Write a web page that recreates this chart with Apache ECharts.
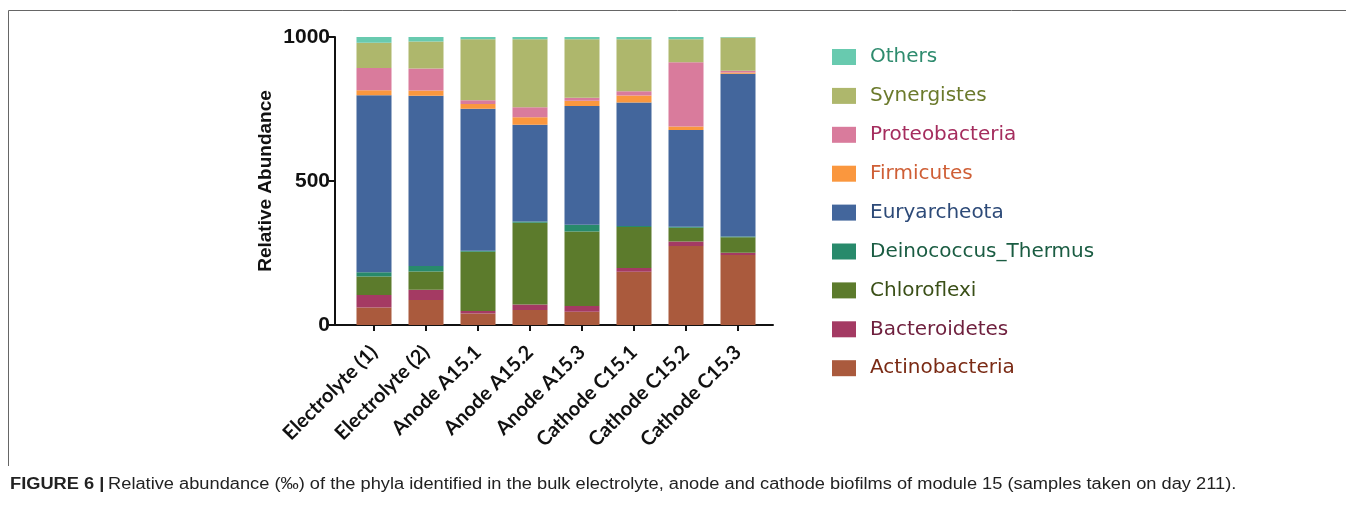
<!DOCTYPE html>
<html>
<head>
<meta charset="utf-8">
<script src="https://cdn.jsdelivr.net/npm/echarts@6/dist/echarts.min.js"></script>
<style>
  html, body { margin: 0; padding: 0; background: #ffffff; }
  #chart { width: 1346px; height: 509px; }
</style>
</head>
<body>
<div id="chart"></div>
<script>
// Samples (x-axis categories)
const samples = ['Electrolyte (1)', 'Electrolyte (2)', 'Anode A15.1', 'Anode A15.2',
                 'Anode A15.3', 'Cathode C15.1', 'Cathode C15.2', 'Cathode C15.3'];

// Relative abundance (‰) per phylum, one value per sample, stacked bottom to top
const actinobacteria    = [61, 87, 40, 52, 46, 185, 274, 243];
const bacteroidetes     = [43, 35, 9, 19, 20, 13, 16, 8];
const chloroflexi       = [64, 64, 205, 284, 259, 142, 48, 54];
const deinococcus       = [15, 19, 4, 4, 23, 4, 3, 2];
const euryarcheota      = [615, 591, 493, 336, 412, 429, 336, 565];
const firmicutes        = [17, 18, 16, 26, 19, 24, 12, 5];
const proteobacteria    = [77, 77, 13, 35, 10, 15, 223, 6];
const synergistes       = [88, 93, 212, 236, 203, 180, 80, 115];
const others            = [20, 16, 8, 8, 8, 8, 8, 2];

const yTicks = [0, 500, 1000];
const caption = 'Relative abundance (‰) of the phyla identified in the bulk electrolyte, anode and cathode biofilms of module 15 (samples taken on day 211).';

const phyla = [
  { name: 'Actinobacteria',      values: actinobacteria, color: '#aa5a3d', text: '#7a2a14' },
  { name: 'Bacteroidetes',       values: bacteroidetes,  color: '#a43a63', text: '#6e1f3d' },
  { name: 'Chloroflexi',         values: chloroflexi,    color: '#5c7b2c', text: '#3a4f17' },
  { name: 'Deinococcus_Thermus', values: deinococcus,    color: '#288a6b', text: '#1a5c42' },
  { name: 'Euryarcheota',        values: euryarcheota,   color: '#43669c', text: '#2d4a78' },
  { name: 'Firmicutes',          values: firmicutes,     color: '#fa973e', text: '#cf5f36' },
  { name: 'Proteobacteria',      values: proteobacteria, color: '#d97b9c', text: '#a52d5e' },
  { name: 'Synergistes',         values: synergistes,    color: '#aeb76c', text: '#6b7a2c' },
  { name: 'Others',              values: others,         color: '#68caaf', text: '#2e8b6e' }
];

const chart = echarts.init(document.getElementById('chart'), null, { renderer: 'canvas' });

chart.setOption({
  animation: false,
  backgroundColor: '#ffffff',
  grid: [
    // plotting area for the stacked bars
    { left: 348, top: 37, width: 416, height: 288, containLabel: false },
    // full-length baseline running under the y axis and past the last bar
    { left: 335, top: 37, width: 438, height: 288, containLabel: false }
  ],
  xAxis: [
    {
      type: 'category',
      gridIndex: 0,
      data: samples,
      axisLine: { show: false },
      axisTick: { show: true, alignWithLabel: true, length: 6, lineStyle: { color: '#111', width: 2 } },
      axisLabel: {
        interval: 0,
        rotate: 45,
        margin: 24,
        fontFamily: 'Lato',
        fontWeight: 'bold',
        fontSize: 20,
        color: '#111'
      }
    },
    {
      type: 'value',
      gridIndex: 1,
      min: 0,
      max: 1,
      axisLine: { show: true, onZero: false, lineStyle: { color: '#111', width: 2 } },
      axisTick: { show: false },
      axisLabel: { show: false },
      splitLine: { show: false }
    }
  ],
  yAxis: [
    {
      type: 'value',
      gridIndex: 0,
      min: 0,
      max: 1000,
      interval: 500,
      offset: 13,
      name: 'Relative Abundance',
      nameLocation: 'middle',
      nameGap: 60,
      nameTextStyle: { fontFamily: 'Liberation Sans', fontWeight: 'bold', fontSize: 19, color: '#111' },
      splitLine: { show: false },
      axisLine: { show: true, onZero: false, lineStyle: { color: '#111', width: 2 } },
      axisTick: { show: true, length: 6, lineStyle: { color: '#111', width: 2 } },
      axisLabel: {
        customValues: yTicks,
        formatter: v => String(v),
        margin: 5,
        fontFamily: 'Liberation Sans',
        fontWeight: 'bold',
        fontSize: 21,
        color: '#111'
      }
    },
    {
      type: 'value',
      gridIndex: 1,
      min: 0,
      max: 1,
      show: false
    }
  ],
  legend: {
    orient: 'vertical',
    left: 832,
    top: 47,
    padding: 0,
    icon: 'rect',
    itemWidth: 24,
    itemHeight: 16,
    itemGap: 18.9,
    selectedMode: false,
    textStyle: { fontFamily: 'DejaVu Sans', fontSize: 20, padding: [0, 0, 0, 9] },
    data: phyla.slice().reverse().map(p => ({ name: p.name, textStyle: { color: p.text } }))
  },
  series: phyla.map(p => ({
    name: p.name,
    type: 'bar',
    stack: 'total',
    xAxisIndex: 0,
    yAxisIndex: 0,
    barWidth: 35,
    itemStyle: { color: p.color },
    data: p.values
  })),
  graphic: [
    {
      type: 'polyline',
      shape: { points: [[8.5, 466], [8.5, 10.5], [1346, 10.5]] },
      style: { stroke: '#666', lineWidth: 1, fill: null }
    },
    {
      type: 'text',
      x: 10,
      y: 477,
      scaleX: 1.14,
      style: {
        text: '{b|FIGURE 6 |} {r|' + caption + '}',
        rich: {
          b: { fontFamily: 'Liberation Sans', fontWeight: 'bold', fontSize: 16, fill: '#222' },
          r: { fontFamily: 'Liberation Sans', fontSize: 16, fill: '#222' }
        }
      }
    }
  ]
});
</script>
</body>
</html>
